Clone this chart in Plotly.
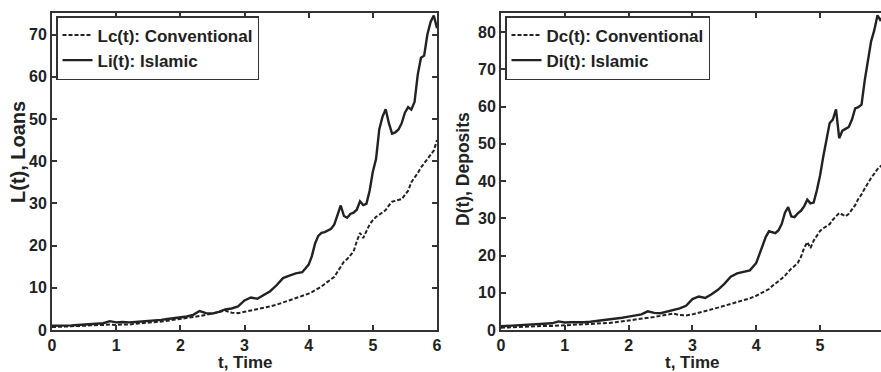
import plotly.graph_objects as go

# time grid (0.1 steps to 4, then 0.05 steps to 6)
t = [0.0, 0.1, 0.2, 0.3, 0.4, 0.5, 0.6, 0.7, 0.8, 0.9,
     1.0, 1.1, 1.2, 1.3, 1.4, 1.5, 1.6, 1.7, 1.8, 1.9,
     2.0, 2.1, 2.2, 2.3, 2.4, 2.5, 2.6, 2.7, 2.8, 2.9,
     3.0, 3.1, 3.2, 3.3, 3.4, 3.5, 3.6, 3.7, 3.8, 3.9,
     4.0, 4.05, 4.1, 4.15, 4.2, 4.25, 4.3, 4.35, 4.4, 4.45,
     4.5, 4.55, 4.6, 4.65, 4.7, 4.75, 4.8, 4.85, 4.9, 4.95,
     5.0, 5.05, 5.1, 5.15, 5.2, 5.25, 5.3, 5.35, 5.4, 5.45,
     5.5, 5.55, 5.6, 5.65, 5.7, 5.75, 5.8, 5.85, 5.9, 5.95, 6.0]

# Loans, conventional (dashed) and Islamic (solid)
Lc = [0.7, 0.7, 0.8, 0.9, 0.9, 1.0, 1.1, 1.1, 1.2, 1.3,
      1.2, 1.3, 1.3, 1.5, 1.6, 1.7, 1.9, 2.0, 2.2, 2.4,
      2.6, 2.8, 3.0, 3.3, 3.6, 3.9, 4.3, 4.6, 4.1, 4.0,
      4.3, 4.6, 4.9, 5.3, 5.6, 6.0, 6.5, 7.0, 7.5, 8.0,
      8.6, 9.0, 9.4, 9.8, 10.3, 10.9, 11.4, 11.9, 12.6, 13.8,
      15.0, 16.2, 16.8, 17.6, 18.6, 21.0, 23.0, 21.8, 23.5, 25.0,
      26.0, 26.8, 27.3, 27.8, 28.4, 29.5, 30.4, 30.6, 30.8, 31.0,
      32.0, 33.0, 35.0, 36.0, 37.2, 38.5, 39.5, 40.6, 41.5, 42.5, 45.0]
Li = [1.0, 1.0, 1.1, 1.1, 1.2, 1.3, 1.4, 1.5, 1.6, 2.1,
      1.8, 1.9, 1.8, 1.9, 2.0, 2.1, 2.3, 2.4, 2.6, 2.8,
      3.0, 3.2, 3.6, 4.5, 4.0, 3.9, 4.3, 4.9, 5.1, 5.6,
      7.0, 7.7, 7.4, 8.3, 9.2, 10.6, 12.3, 12.9, 13.4, 13.7,
      15.5, 17.5, 20.5, 22.3, 23.0, 23.2, 23.6, 24.0, 25.0, 27.5,
      29.5, 27.0, 26.6, 27.5, 27.8, 28.5, 30.5, 29.6, 29.9, 33.0,
      37.5, 40.5, 47.5, 50.5, 52.3, 49.0, 46.5, 46.8, 47.5, 49.0,
      51.5, 52.8, 52.2, 54.0, 60.5, 64.5, 65.0, 70.0, 73.0, 74.5, 71.5]

# Deposits, conventional (dashed) and Islamic (solid)
Dc = [0.6, 0.7, 0.7, 0.8, 0.9, 1.0, 1.0, 1.1, 1.1, 1.2,
      1.1, 1.2, 1.3, 1.4, 1.5, 1.6, 1.8, 1.9, 2.1, 2.3,
      2.5, 2.7, 2.9, 3.2, 3.5, 3.8, 4.1, 4.4, 4.0, 3.9,
      4.2, 4.6, 5.1, 5.6, 6.0, 6.5, 7.0, 7.4, 8.0, 8.5,
      9.2, 9.6, 10.0, 10.4, 11.0, 11.8, 12.4, 13.0, 13.8, 14.6,
      15.6, 16.5, 17.2, 18.0, 19.6, 22.0, 23.6, 22.0, 24.0, 25.5,
      26.6, 27.3, 27.8, 28.4, 29.6, 30.6, 31.4, 31.0, 30.5, 31.2,
      32.2, 33.5, 35.2, 36.4, 38.0, 39.6, 40.8, 42.0, 43.2, 44.0, 44.5]
Di = [1.0, 1.1, 1.1, 1.2, 1.3, 1.4, 1.5, 1.6, 1.8, 2.3,
      2.0, 2.1, 2.0, 2.1, 2.2, 2.4, 2.6, 2.8, 3.0, 3.3,
      3.6, 3.9, 4.2, 5.0, 4.6, 4.5, 4.9, 5.5, 5.8, 6.5,
      8.3, 9.0, 8.6, 9.6, 10.8, 12.4, 14.3, 15.2, 15.6, 16.0,
      18.0, 20.5, 23.0, 25.0, 26.5, 26.2, 26.0, 26.8, 28.5, 31.5,
      33.0, 30.5, 30.3, 31.3, 32.0, 33.2, 35.0, 34.0, 34.2, 37.5,
      41.5, 46.5, 51.5, 55.5, 56.5, 59.2, 51.5, 53.5, 54.0, 54.5,
      56.5, 59.5, 59.8, 60.5, 67.0, 72.5, 77.5, 80.5, 84.5, 83.0, 85.0]

x_ticks = [0, 1, 2, 3, 4, 5, 6]
yL_ticks = [0, 10, 20, 30, 40, 50, 60, 70]
yD_ticks = [0, 10, 20, 30, 40, 50, 60, 70, 80]

W, H = 881, 372
FONT = "Liberation Sans, Arial, sans-serif"
INK = "#222222"

fig = go.Figure()
fig.add_trace(go.Scatter(x=t, y=Lc, mode="lines", name="Lc(t): Conventional",
                         line=dict(color=INK, width=2, dash="4px,2px"),
                         xaxis="x", yaxis="y", legend="legend"))
fig.add_trace(go.Scatter(x=t, y=Li, mode="lines", name="Li(t): Islamic",
                         line=dict(color=INK, width=2.4),
                         xaxis="x", yaxis="y", legend="legend"))
fig.add_trace(go.Scatter(x=t, y=Dc, mode="lines", name="Dc(t): Conventional",
                         line=dict(color=INK, width=2, dash="4px,2px"),
                         xaxis="x2", yaxis="y2", legend="legend2"))
fig.add_trace(go.Scatter(x=t, y=Di, mode="lines", name="Di(t): Islamic",
                         line=dict(color=INK, width=2.4),
                         xaxis="x2", yaxis="y2", legend="legend2"))

ydom = [1 - 330 / H, 1 - 13 / H]
axis_common = dict(showline=True, linecolor="#333333", linewidth=2,
                   ticks="inside", ticklen=5, tickwidth=1.5, tickcolor="#333333",
                   showgrid=False, zeroline=False,
                   tickfont=dict(family=FONT, size=16, color=INK, weight="bold"))

fig.update_layout(
    width=W, height=H,
    margin=dict(l=0, r=0, t=0, b=0, autoexpand=False),
    paper_bgcolor="white", plot_bgcolor="white",
    font=dict(family=FONT, color=INK, weight="bold"),
    xaxis=dict(domain=[52 / W, 437 / W], range=[0, 6], tickvals=x_ticks,
               mirror="ticks", anchor="y", ticklabelstandoff=0, **axis_common),
    yaxis=dict(domain=ydom, range=[0, 75.1], tickvals=yL_ticks,
               mirror="ticks", anchor="x", **axis_common),
    xaxis2=dict(domain=[501 / W, 1.0], range=[0, 5.955], tickvals=x_ticks,
                mirror="ticks", anchor="y2", ticklabelstandoff=0, **axis_common),
    yaxis2=dict(domain=ydom, range=[0, 85.1], tickvals=yD_ticks,
                mirror=False, anchor="x2", **axis_common),
    legend=dict(x=56 / W, y=1 - 16 / H, xanchor="left", yanchor="top",
                bgcolor="white", bordercolor="#333333", borderwidth=1.5,
                font=dict(family=FONT, size=17, color=INK, weight="bold"),
                tracegroupgap=0),
    legend2=dict(x=505 / W, y=1 - 16 / H, xanchor="left", yanchor="top",
                 bgcolor="white", bordercolor="#333333", borderwidth=1.5,
                 font=dict(family=FONT, size=17, color=INK, weight="bold"),
                 tracegroupgap=0),
    showlegend=True,
)

title_font = dict(family=FONT, size=17, color=INK, weight="bold")
fig.add_annotation(text="t, Time", xref="paper", yref="paper",
                   x=245 / W, y=1 - 362 / H, xanchor="center", yanchor="middle",
                   showarrow=False, font=title_font, borderpad=0)
fig.add_annotation(text="t, Time", xref="paper", yref="paper",
                   x=692 / W, y=1 - 362 / H, xanchor="center", yanchor="middle",
                   showarrow=False, font=title_font, borderpad=0)
fig.add_annotation(text="L(t), Loans", xref="paper", yref="paper",
                   x=18 / W, y=1 - 152 / H, xanchor="center", yanchor="middle",
                   textangle=-90, showarrow=False,
                   font=dict(family=FONT, size=20, color=INK, weight="bold"))
fig.add_annotation(text="D(t), Deposits", xref="paper", yref="paper",
                   x=463 / W, y=1 - 169 / H, xanchor="center", yanchor="middle",
                   textangle=-90, showarrow=False, font=dict(family=FONT, size=17.5, color=INK, weight="bold"))

fig.write_html("out.html", config={"displayModeBar": False},
               post_script="document.body.style.margin='0';document.body.style.overflow='hidden';")
